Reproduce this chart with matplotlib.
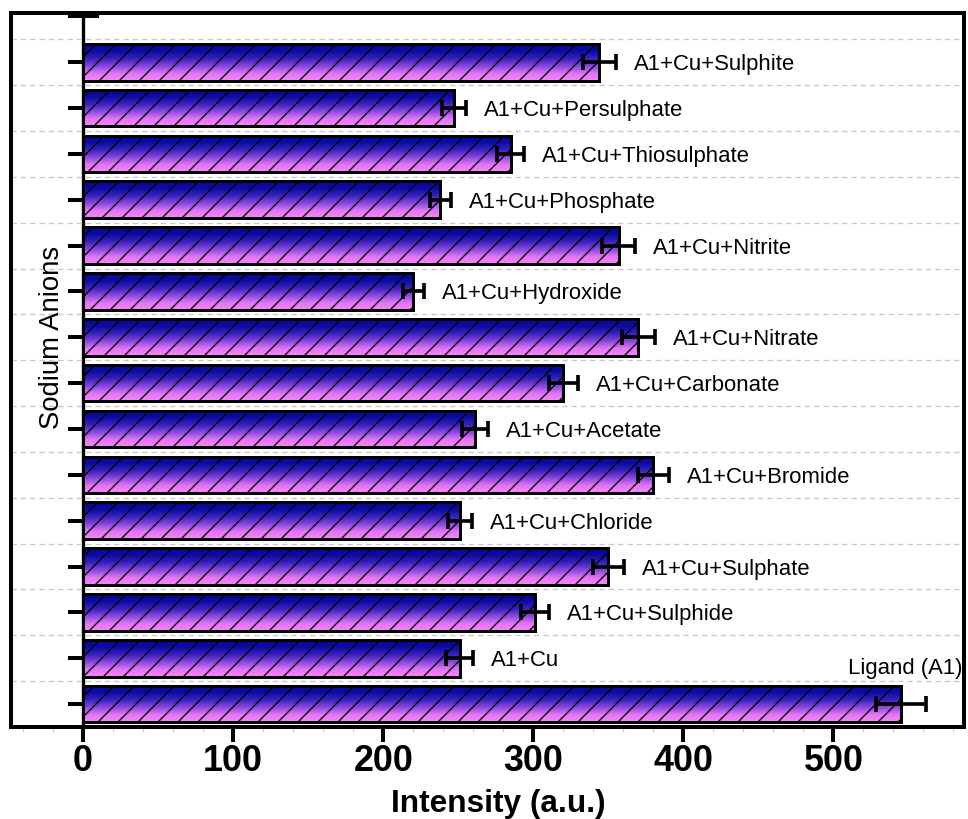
import numpy as np
import matplotlib
matplotlib.use('Agg')
import matplotlib.pyplot as plt
from matplotlib.colors import LinearSegmentedColormap
from matplotlib.ticker import MultipleLocator

categories = ["Ligand (A1)", "A1+Cu", "A1+Cu+Sulphide", "A1+Cu+Sulphate",
              "A1+Cu+Chloride", "A1+Cu+Bromide", "A1+Cu+Acetate",
              "A1+Cu+Carbonate", "A1+Cu+Nitrate", "A1+Cu+Hydroxide",
              "A1+Cu+Nitrite", "A1+Cu+Phosphate", "A1+Cu+Thiosulphate",
              "A1+Cu+Persulphate", "A1+Cu+Sulphite"]
intensity = [545, 251, 301, 350, 251, 380, 261, 320, 370, 220, 357, 238, 285, 247, 344]
errors = [16.5, 9, 9.5, 10.5, 8, 10.5, 8.5, 9.5, 11, 7, 11, 7, 9, 8, 11]
x_ticks = [0, 100, 200, 300, 400, 500]
x_label = "Intensity (a.u.)"
y_label = "Sodium Anions"

plt.rcParams['font.family'] = ['Liberation Sans', 'DejaVu Sans']
plt.rcParams['hatch.linewidth'] = 0.8
plt.rcParams['hatch.color'] = 'black'

DPI = 120
fig = plt.figure(figsize=(968 / DPI, 819 / DPI), dpi=DPI)
ax = fig.add_axes([11 / 968, 1 - 727 / 819, (964 - 11) / 968, (727 - 12.7) / 819])
xmin, xmax = -48, 587
ymin, ymax = -0.5, 15.08

ypos = np.arange(len(categories))
h = 0.8
cmap = LinearSegmentedColormap.from_list(
    'bp', ['#05059a', '#0c0ca2', '#3a22bc', '#8a48de', '#e276f4', '#f884fa'])
grad = np.linspace(0, 1, 256).reshape(-1, 1)
for y, v in zip(ypos, intensity):
    ax.imshow(grad, cmap=cmap, extent=[0, v, y - h / 2, y + h / 2],
              origin='upper', aspect='auto', zorder=2, interpolation='bilinear')

ax.barh(ypos, intensity, height=h, facecolor='none', edgecolor='black',
        linewidth=1.8, hatch='//', zorder=3)
ax.errorbar(intensity, ypos, xerr=errors, fmt='none', ecolor='black',
            elinewidth=2.2, capsize=4.8, capthick=2.2, zorder=4)

for i, (cat, v, e) in enumerate(zip(categories, intensity, errors)):
    if i == 0:
        ax.text(0.998, i + 0.83, cat, transform=ax.get_yaxis_transform(),
                ha='right', va='center_baseline', fontsize=13.3)
    else:
        ax.text(v + e + 12, i, cat, ha='left', va='center_baseline',
                fontsize=13.3)

ax.set_xlim(xmin, xmax)
ax.set_ylim(ymin, ymax)

# grid between bars
ax.set_yticks(np.arange(-0.5, 15, 1), minor=True)
ax.set_yticks([])
ax.grid(axis='y', which='minor', color='#c8c8c8', linestyle=(0, (4, 3)),
        linewidth=0.8, zorder=0.5)
ax.tick_params(axis='y', which='both', left=False, labelleft=False)

ax.set_xticks(x_ticks)
ax.set_xticklabels([str(t) for t in x_ticks], fontsize=21.5, fontweight='bold')
ax.xaxis.set_minor_locator(MultipleLocator(20))
ax.tick_params(axis='x', which='major', direction='out', length=9, width=2.4,
               pad=1)
ax.tick_params(axis='x', which='minor', direction='out', length=3, width=0.8,
               color='#d0d0d0')

for s in ax.spines.values():
    s.set_linewidth(2.4)

frac = (0 - xmin) / (xmax - xmin)
sec = ax.secondary_yaxis(frac)
sec.set_yticks(np.arange(16))
sec.set_yticklabels([])
sec.tick_params(direction='inout', length=18.6, width=2.4, color='black')
sec.spines['left'].set_linewidth(2.0)

fig.text(498 / 968, 1 - 812 / 819, x_label, ha='center', va='baseline',
         fontsize=19, fontweight='bold')
fig.text(52.5 / 968, 1 - 337.5 / 819, y_label, ha='center', va='center',
         rotation=90, fontsize=16.5)

fig.savefig('out.png', dpi=DPI)
